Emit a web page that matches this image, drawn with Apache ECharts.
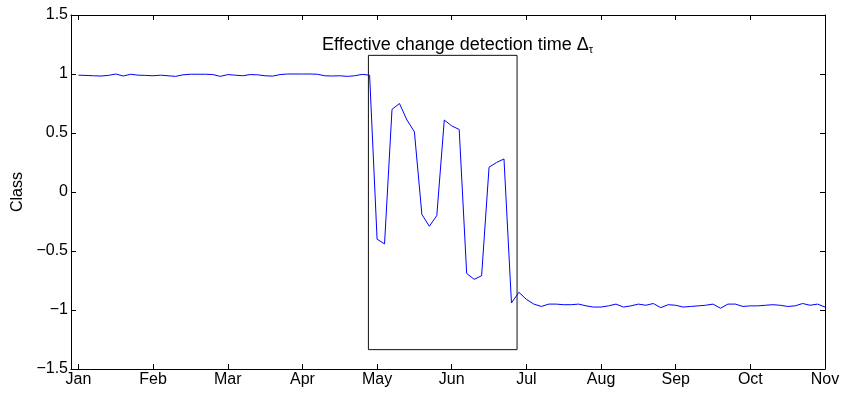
<!DOCTYPE html>
<html>
<head>
<meta charset="utf-8">
<script src="https://cdn.jsdelivr.net/npm/echarts@6/dist/echarts.min.js"></script>
<style>
html, body { margin: 0; padding: 0; background: #fff; }
#chart { width: 844px; height: 396px; }
</style>
</head>
<body>
<div id="chart"></div>
<script>
// month tick labels, one every 10 samples starting at sample 1
var monthLabels = ['Jan', 'Feb', 'Mar', 'Apr', 'May', 'Jun', 'Jul', 'Aug', 'Sep', 'Oct', 'Nov'];

// class output per sample (samples 1..101)
var classValues = [
    0.99, 0.988, 0.985, 0.983, 0.988, 1.0, 0.983, 0.998, 0.99, 0.988,
    0.985, 0.99, 0.985, 0.98, 0.993, 0.998, 0.998, 0.998, 0.995, 0.98,
    0.995, 0.99, 0.985, 0.995, 0.993, 0.985, 0.982, 0.995, 1.0, 1.0,
    1.0, 1.0, 0.998, 0.985, 0.983, 0.985, 0.98, 0.985, 0.997, 0.99,
    -0.40, -0.44, 0.70, 0.75, 0.61, 0.51, -0.19, -0.29, -0.20, 0.61,
    0.56, 0.53, -0.69, -0.74, -0.71, 0.21, 0.25, 0.28, -0.94, -0.85,
    -0.91, -0.95, -0.97, -0.95, -0.95, -0.955, -0.955, -0.95, -0.965, -0.975,
    -0.975, -0.965, -0.95, -0.975, -0.965, -0.95, -0.96, -0.945, -0.98, -0.955,
    -0.96, -0.975, -0.97, -0.965, -0.96, -0.95, -0.985, -0.95, -0.95, -0.97,
    -0.965, -0.965, -0.96, -0.955, -0.96, -0.97, -0.965, -0.945, -0.96, -0.95,
    -0.975
];

// rectangle marking the effective change detection time
var boxX = [39.84, 59.75];
var boxY = [-1.336, 1.158];

var annotationText = 'Effective change detection time \u0394';
var annotationSub = '\u03c4';

var tickValues = monthLabels.map(function (m, i) { return 1 + i * 10; });
var lineData = classValues.map(function (v, i) { return [i + 1, v]; });
var boxData = [
    [boxX[0], boxY[0]], [boxX[0], boxY[1]], [boxX[1], boxY[1]],
    [boxX[1], boxY[0]], [boxX[0], boxY[0]]
];

var font = 'Liberation Sans, Arial, Helvetica, sans-serif';
var axisLine = { show: true, onZero: false, lineStyle: { color: '#000', width: 1 } };
var axisTickIn = { show: true, inside: true, length: 5, lineStyle: { color: '#000' } };

var chart = echarts.init(document.getElementById('chart'));
var option = {
    animation: false,
    backgroundColor: '#fff',
    grid: { left: 71, right: 19, top: 15, bottom: 27 },
    xAxis: [
        {
            type: 'value',
            min: 0,
            max: 101,
            axisLine: axisLine,
            axisTick: Object.assign({ customValues: tickValues }, axisTickIn),
            axisLabel: {
                customValues: tickValues,
                color: '#000',
                fontSize: 16,
                fontFamily: font,
                margin: 3,
                formatter: function (v) { return monthLabels[Math.round((v - 1) / 10)]; }
            },
            splitLine: { show: false }
        },
        {
            type: 'value',
            position: 'top',
            min: 0,
            max: 101,
            axisLine: axisLine,
            axisTick: Object.assign({ customValues: tickValues }, axisTickIn),
            axisLabel: { show: false },
            splitLine: { show: false }
        }
    ],
    yAxis: [
        {
            type: 'value',
            min: -1.5,
            max: 1.5,
            interval: 0.5,
            name: 'Class',
            nameLocation: 'middle',
            nameGap: 44,
            nameTextStyle: { color: '#000', fontSize: 16, fontFamily: font },
            axisLine: axisLine,
            axisTick: axisTickIn,
            axisLabel: {
                color: '#000',
                fontSize: 16,
                fontFamily: font,
                margin: 3,
                formatter: function (v) { return String(v).replace('-', '\u2212'); }
            },
            splitLine: { show: false }
        },
        {
            type: 'value',
            position: 'right',
            min: -1.5,
            max: 1.5,
            interval: 0.5,
            axisLine: axisLine,
            axisTick: axisTickIn,
            axisLabel: { show: false },
            splitLine: { show: false }
        }
    ],
    series: [
        {
            name: 'class',
            type: 'line',
            showSymbol: false,
            data: lineData,
            lineStyle: { color: '#0000ff', width: 1 },
            z: 3
        },
        {
            name: 'box',
            type: 'line',
            showSymbol: false,
            data: boxData,
            lineStyle: { color: '#111', width: 1 },
            z: 2
        }
    ],
    graphic: [
        {
            type: 'text',
            left: 322,
            top: 30,
            style: {
                text: '{a|' + annotationText + '}{b|' + annotationSub + '}',
                rich: {
                    a: { fontSize: 18, fontFamily: font, fill: '#000', lineHeight: 20 },
                    b: { fontSize: 11, fontFamily: font, fill: '#000', lineHeight: 20, verticalAlign: 'bottom', padding: [14, 0, 0, 0] }
                }
            }
        }
    ]
};
chart.setOption(option);
</script>
</body>
</html>
